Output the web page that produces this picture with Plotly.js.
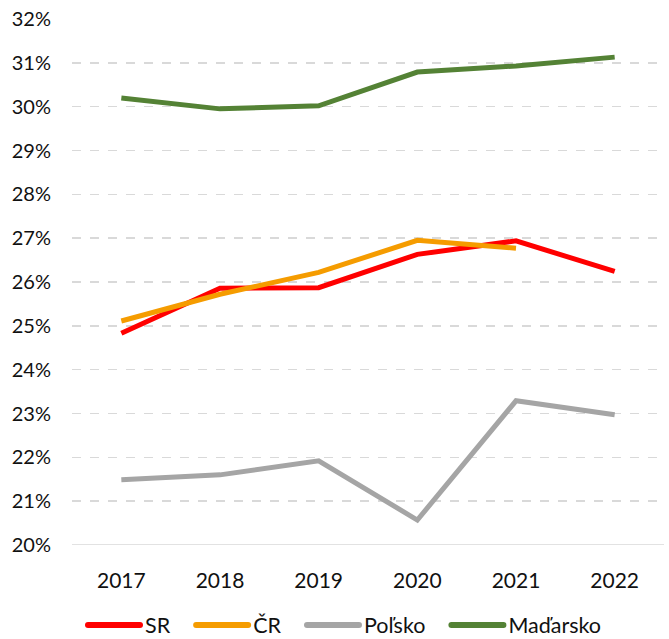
<!DOCTYPE html>
<html><head><meta charset="utf-8">
<script src="https://cdn.plot.ly/plotly-3.0.1.min.js"></script>
<style>html,body{margin:0;padding:0;background:#fff;}#chart{width:669px;height:639px;}</style>
</head><body><div id="chart"></div>
<script>
const years = ["2017","2018","2019","2020","2021","2022"];
const sr = [24.83, 25.86, 25.87, 26.63, 26.94, 26.24];
const cr = [25.11, 25.72, 26.22, 26.95, 26.77, null];
const polsko = [21.49, 21.60, 21.92, 20.57, 23.29, 22.97];
const madarsko = [30.20, 29.95, 30.02, 30.79, 30.93, 31.13];
const names = ["SR", "ČR", "Poľsko", "Maďarsko"];
const colors = ["#FF0000", "#F59C00", "#A5A5A5", "#548235"];
const yTicks = [20,21,22,23,24,25,26,27,28,29,30,31,32];

const series = [sr, cr, polsko, madarsko];
const traces = series.map((s, i) => ({
  x: years, y: s, name: names[i], type: "scatter", mode: "lines",
  line: {color: colors[i], width: 5}, connectgaps: false
}));

const fam = "Lato, 'Open Sans', sans-serif";
const yFont = {family: fam, size: 20, color: "#111"};
const xFont = {family: fam, size: 21, color: "#111"};
const legendFont = {family: fam, size: 21.5, color: "#111"};
const layout = {
  width: 669, height: 639,
  margin: {l: 72, r: 5, t: 19, b: 94},
  paper_bgcolor: "#fff", plot_bgcolor: "#fff",
  font: yFont,
  showlegend: true,
  legend: {orientation: "h", xref: "container", yref: "container",
           x: 0.1, xanchor: "left", y: 0.022, yanchor: "middle",
           font: legendFont, traceorder: "normal", itemwidth: 48, tracegroupgap: 0,
           bgcolor: "rgba(0,0,0,0)"},
  xaxis: {type: "category", range: [-0.5, 5.5], showgrid: false, zeroline: false,
          showline: false, ticks: "", ticklabelstandoff: 21, tickfont: xFont, fixedrange: true},
  yaxis: {range: [20, 32], tickvals: yTicks, ticktext: yTicks.map(v => v + "%"),
          showgrid: true, gridcolor: "#D9D9D9", griddash: "dash", gridwidth: 1.5,
          zeroline: false, showline: false, ticks: "", ticklabelstandoff: 20,
          tickfont: yFont, fixedrange: true},
  shapes: [{type: "line", xref: "paper", yref: "y", x0: 0, x1: 1, y0: 20, y1: 20,
            line: {color: "#D9D9D9", width: 1.5}}]
};
Plotly.newPlot("chart", traces, layout, {staticPlot: true, displayModeBar: false}).then(() => {
  const leg = document.querySelector(".legend");
  const lm = (leg.getAttribute("transform") || "").match(/translate\(([-\d.]+)[ ,]+([-\d.]+)\)/);
  const lx = lm ? parseFloat(lm[1]) : 0;
  document.querySelectorAll(".legend .scrollbox").forEach(s => s.removeAttribute("clip-path"));
  let cur = 86;
  document.querySelectorAll(".legend .traces").forEach(g => {
    const t = g.getAttribute("transform") || "";
    const m = t.match(/translate\(([-\d.]+)[ ,]+([-\d.]+)\)/);
    const gy = m ? m[2] : 0;
    g.setAttribute("transform", `translate(${cur - lx},${gy})`);
    const p = g.querySelector(".legendlines path");
    if (p) {
      p.setAttribute("d", "M2,0h52");
      p.style.strokeWidth = "6px";
      p.style.strokeLinecap = "round";
    }
    const txt = g.querySelector("text.legendtext");
    let w = 40;
    if (txt) { txt.setAttribute("x", 59); w = txt.getComputedTextLength(); }
    cur += 59 + w + 24;
  });
});
</script></body></html>
